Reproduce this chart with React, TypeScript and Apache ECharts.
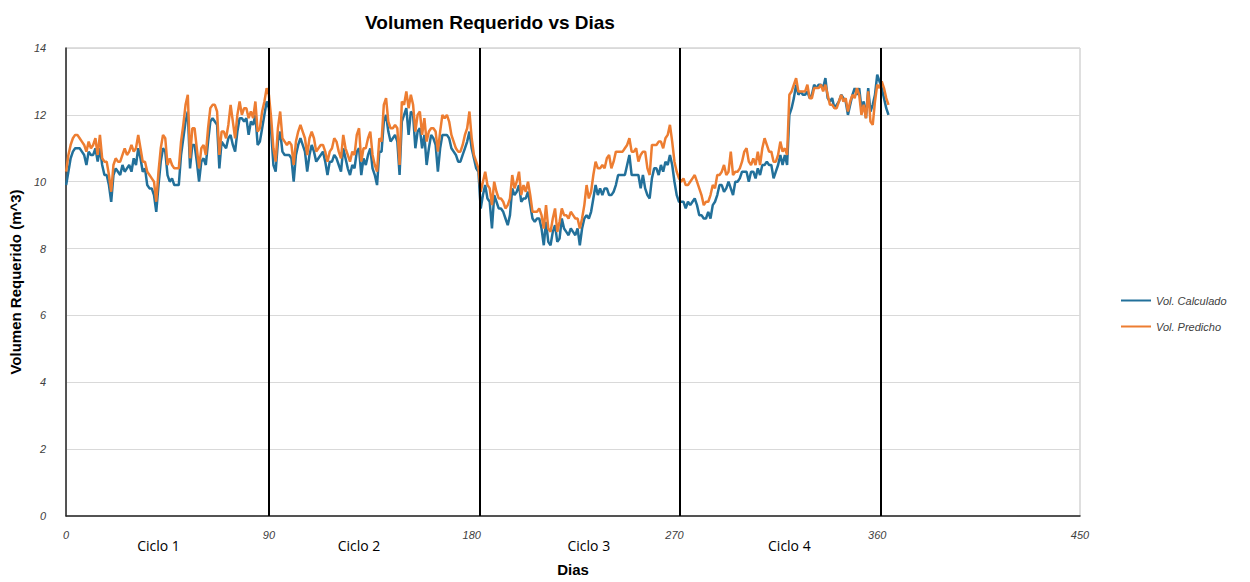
import React, { useEffect, useRef } from "react";
import * as echarts from "echarts";

const volCalculado: number[] = [
  9.9, 10.3, 10.7, 10.9, 11.0, 11.0, 11.0, 10.9, 10.8, 10.5,
  10.9, 10.8, 10.8, 11.0, 10.6, 11.0, 10.5, 10.2, 10.2, 9.9,
  9.4, 10.2, 10.4, 10.3, 10.2, 10.5, 10.3, 10.4, 10.5, 10.3,
  10.7, 10.5, 11.0, 10.7, 10.3, 10.4, 9.9, 9.8, 9.8, 9.6,
  9.1, 9.9, 10.6, 11.0, 10.9, 10.2, 10.0, 10.1, 9.9, 9.9,
  9.9, 10.8, 11.3, 11.8, 12.1, 10.4, 11.1, 11.1, 10.6, 10.0,
  10.6, 10.7, 10.5, 11.2, 11.8, 11.9, 11.8, 11.7, 10.4, 11.2,
  11.1, 11.0, 11.3, 11.4, 11.1, 10.9, 11.5, 11.9, 11.9, 11.8,
  11.9, 11.4, 11.8, 11.7, 12.0, 11.1, 11.2, 11.6, 12.0, 12.4,
  12.2, 11.5, 10.5, 10.3, 11.2, 11.5, 10.9, 10.8, 10.8, 10.8,
  10.7, 10.0, 10.8, 11.1, 11.3, 11.1, 10.9, 10.3, 10.8, 11.1,
  10.9, 10.6, 10.7, 10.8, 10.9, 10.6, 10.2, 10.6, 10.6, 10.8,
  10.7, 10.5, 10.3, 11.0, 10.7, 10.4, 10.2, 10.5, 10.4, 10.9,
  11.0, 10.2, 10.7, 10.5, 10.8, 11.0, 10.4, 10.2, 9.9, 10.9,
  10.9, 11.8, 12.0, 11.5, 11.2, 11.3, 11.4, 11.2, 10.2, 11.8,
  12.0, 12.2, 11.4, 12.1, 12.0, 11.0, 11.5, 11.6, 11.0, 11.4,
  10.5, 11.0, 11.4, 11.3, 11.1, 10.3, 11.0, 11.4, 11.4, 11.4,
  11.3, 11.0, 10.9, 10.8, 10.6, 10.6, 10.8, 11.0, 11.2, 11.5,
  11.0, 10.7, 10.4, 10.3, 9.2, 9.6, 9.9, 9.5, 9.4, 8.6,
  9.6, 9.4, 9.2, 9.2, 9.1, 8.9, 8.7, 9.0, 9.8, 9.6,
  9.7, 9.9, 9.4, 9.5, 9.5, 9.7, 9.3, 8.9, 8.8, 8.9,
  8.9, 8.6, 8.1, 8.8, 8.2, 8.1, 8.5, 8.7, 8.2, 8.3,
  8.9, 8.6, 8.5, 8.4, 8.6, 8.5, 8.4, 8.6, 8.1, 8.6,
  8.9, 9.0, 8.9, 9.1, 9.5, 9.9, 9.6, 9.8, 9.6, 9.8,
  9.8, 9.6, 9.6, 9.7, 9.9, 10.2, 10.2, 10.2, 10.2, 10.5,
  10.8, 10.2, 10.2, 10.2, 10.2, 9.8, 10.2, 9.8, 9.6, 9.5,
  10.1, 10.4, 10.4, 10.2, 10.5, 10.3, 10.6, 10.5, 10.8, 10.5,
  10.0, 9.6, 9.4, 9.4, 9.4, 9.2, 9.4, 9.3, 9.4, 9.5,
  9.3, 9.0, 9.0, 8.9, 8.9, 9.1, 8.9, 9.3, 9.4, 9.6,
  9.9, 9.9, 9.7, 9.8, 10.0, 9.8, 9.6, 10.0, 10.0, 10.1,
  10.3, 10.3, 10.3, 10.0, 10.3, 10.3, 10.1, 10.4, 10.2, 10.5,
  10.5, 10.6, 10.5, 10.5, 10.1, 10.3, 10.5, 10.8, 10.5, 10.8,
  10.5, 12.0, 12.2, 12.5, 12.9, 12.6, 12.7, 12.6, 12.6, 12.7,
  12.5, 12.6, 12.9, 12.8, 12.9, 12.9, 12.8, 13.1, 12.5, 12.4,
  12.5, 12.2, 12.3, 12.4, 12.6, 12.5, 12.4, 12.0, 12.3, 12.6,
  12.8, 12.6, 12.8, 12.2, 12.4, 11.9, 12.8, 12.1, 12.3, 12.6,
  13.2, 13.0, 12.8, 12.5, 12.2, 12.0,
];

const volPredicho: number[] = [
  10.3, 10.8, 11.1, 11.3, 11.4, 11.4, 11.3, 11.2, 11.1, 10.9,
  11.2, 11.0, 11.1, 11.3, 10.8, 11.4, 10.7, 10.6, 10.6, 10.2,
  9.7, 10.5, 10.7, 10.6, 10.6, 10.8, 11.0, 10.8, 10.9, 11.1,
  10.9, 11.0, 11.4, 11.0, 10.6, 10.6, 10.3, 10.2, 10.1, 10.0,
  9.4, 10.3, 11.0, 11.4, 11.3, 10.5, 10.7, 10.5, 10.4, 10.4,
  10.4, 11.2, 11.7, 12.3, 12.6, 10.7, 11.6, 11.6, 11.0, 10.4,
  11.0, 11.1, 10.8, 11.6, 12.2, 12.3, 12.3, 12.1, 10.8, 11.5,
  11.5, 11.3, 11.7, 12.3, 11.8, 11.3, 12.0, 12.4, 12.0, 12.2,
  12.2, 11.9, 12.1, 11.9, 12.4, 11.5, 11.6, 12.1, 12.4, 12.8,
  12.6, 11.9, 11.0, 10.6, 11.6, 12.1, 11.3, 11.2, 11.1, 11.2,
  11.1, 10.5, 11.2, 11.5, 11.7, 11.5, 11.3, 10.8, 11.3, 11.5,
  11.3, 10.9, 11.0, 11.1, 11.1, 10.9, 10.6, 10.9, 11.0, 11.3,
  11.2, 10.9, 10.7, 11.4, 11.0, 10.8, 10.6, 10.9, 10.8, 11.4,
  11.6, 10.6, 11.0, 11.0, 11.3, 11.5, 10.8, 10.5, 10.3, 11.3,
  11.2, 12.3, 12.5, 11.8, 11.6, 11.6, 11.7, 11.6, 10.5, 12.4,
  12.3, 12.7, 12.2, 12.6, 12.3, 11.5, 12.0, 12.1, 11.4, 11.9,
  11.2, 11.5, 11.6, 11.6, 11.5, 10.9, 11.5, 12.0, 11.9, 12.0,
  11.8, 11.4, 11.2, 11.0, 10.9, 10.9, 11.1, 11.4, 11.6, 12.1,
  11.3, 10.8, 10.6, 10.4, 9.7, 10.0, 10.3, 9.9, 9.8, 9.3,
  10.0, 9.7, 9.5, 9.5, 9.4, 9.2, 9.3, 9.5, 10.2, 9.8,
  10.0, 10.3, 9.6, 9.9, 9.7, 10.0, 9.6, 9.1, 9.1, 9.1,
  9.2, 9.0, 8.6, 9.3, 8.6, 8.5, 8.9, 9.2, 8.5, 8.8,
  9.2, 9.0, 9.0, 8.9, 9.1, 9.0, 8.9, 8.9, 8.6, 8.9,
  9.3, 9.9, 9.5, 9.7, 10.2, 10.6, 10.4, 10.4, 10.5, 10.4,
  10.7, 10.8, 10.4, 10.6, 10.9, 10.9, 10.9, 10.9, 11.0, 11.1,
  11.3, 10.9, 10.9, 11.0, 10.6, 10.8, 10.9, 10.9, 10.4, 10.2,
  11.1, 11.1, 11.1, 11.2, 11.2, 11.0, 11.3, 11.4, 11.7, 11.2,
  10.6, 10.3, 10.1, 10.0, 10.1, 9.9, 9.9, 10.0, 10.1, 10.2,
  10.0, 9.8, 9.6, 9.3, 9.4, 9.4, 9.6, 9.9, 9.8, 10.2,
  10.2, 10.3, 10.5, 10.2, 10.3, 10.9, 10.2, 10.3, 10.3, 10.4,
  10.6, 10.9, 11.0, 10.6, 10.5, 10.7, 10.5, 10.9, 10.5, 11.0,
  11.3, 11.1, 10.9, 10.9, 10.6, 10.6, 10.8, 11.2, 10.9, 11.0,
  10.8, 12.6, 12.7, 12.9, 13.1, 12.7, 12.7, 12.7, 12.7, 12.9,
  12.5, 12.5, 12.8, 12.8, 12.8, 12.9, 12.7, 12.9, 12.6, 12.3,
  12.3, 12.2, 12.2, 12.4, 12.6, 12.4, 12.5, 12.1, 12.4, 12.6,
  12.5, 12.8, 12.6, 12.0, 12.3, 11.9, 12.7, 11.8, 11.7, 12.4,
  12.9, 12.8, 13.0, 12.8, 12.5, 12.3,
];

const cycleBoundaries: number[] = [90, 183.5, 272.5, 361.5];
const cycleLabels: string[] = ["Ciclo 1", "Ciclo 2", "Ciclo 3", "Ciclo 4"];
const cycleLabelDays: number[] = [41, 130, 232, 321];

const FONT = "'Liberation Sans', Arial, sans-serif";

export default function App() {
  const ref = useRef<HTMLDivElement>(null);

  useEffect(() => {
    document.body.style.margin = "0";
    if (!ref.current) return;
    const chart = echarts.init(ref.current, null, { renderer: "svg" });
    const toPairs = (arr: number[]) => arr.map((v, i) => [i, v]);

    chart.setOption({
      animation: false,
      backgroundColor: "#ffffff",
      title: {
        text: "Volumen Requerido vs Dias",
        left: 485,
        top: 8,
        textAlign: "center",
        textStyle: { fontFamily: FONT, fontWeight: "bold", fontSize: 19, color: "#000" },
      },
      legend: {
        orient: "vertical",
        left: 1116,
        top: 290,
        icon: "rect",
        itemWidth: 30,
        itemHeight: 2,
        itemGap: 15,
        textStyle: { fontFamily: FONT, fontStyle: "italic", fontSize: 11, color: "#404040" },
        data: ["Vol. Calculado", "Vol. Predicho"],
      },
      grid: {
        left: 62,
        right: 170,
        top: 48,
        bottom: 63,
        show: true,
        borderColor: "#bfbfbf",
        borderWidth: 1,
      },
      xAxis: {
        type: "value",
        min: 0,
        max: 450,
        interval: 90,
        name: "Dias",
        nameLocation: "middle",
        nameGap: 46,
        nameTextStyle: { fontFamily: FONT, fontWeight: "bold", fontSize: 15, color: "#000" },
        axisLine: { lineStyle: { color: "#262626", width: 1.5 } },
        axisTick: { show: false },
        splitLine: { show: false },
        axisLabel: { fontFamily: FONT, fontStyle: "italic", fontSize: 11, color: "#404040", margin: 13 },
      },
      yAxis: {
        type: "value",
        min: 0,
        max: 14,
        interval: 2,
        name: "Volumen Requerido (m^3)",
        nameLocation: "middle",
        nameGap: 38,
        nameTextStyle: { fontFamily: FONT, fontWeight: "bold", fontSize: 15, color: "#000" },
        axisLine: { show: true, lineStyle: { color: "#262626", width: 1.5 } },
        axisTick: { show: false },
        splitLine: { lineStyle: { color: "#d9d9d9", width: 1 } },
        axisLabel: { fontFamily: FONT, fontStyle: "italic", fontSize: 11, color: "#404040", margin: 20 },
      },
      series: [
        {
          name: "Vol. Calculado",
          type: "line",
          data: toPairs(volCalculado),
          symbol: "none",
          lineStyle: { color: "#22709a", width: 2.5 },
          itemStyle: { color: "#22709a" },
          markLine: {
            silent: true,
            symbol: "none",
            label: { show: false },
            lineStyle: { color: "#000", width: 2, type: "solid" },
            data: cycleBoundaries.map((d) => ({ xAxis: d })),
          },
        },
        {
          name: "Vol. Predicho",
          type: "line",
          data: toPairs(volPredicho),
          symbol: "none",
          lineStyle: { color: "#ed7d31", width: 2.5 },
          itemStyle: { color: "#ed7d31" },
        },
      ],
    });

    const texts = cycleLabels.map((t, i) => {
      const p = chart.convertToPixel({ gridIndex: 0 }, [cycleLabelDays[i], 0]) as number[];
      return {
        type: "text",
        x: p[0],
        y: p[1] + 29,
        style: {
          text: t,
          fontFamily: "'Open Sans', 'Liberation Sans', sans-serif",
          fontSize: 14,
          fill: "#000",
          textAlign: "center",
          textVerticalAlign: "middle",
        },
      };
    });
    chart.setOption({ graphic: texts });

    return () => chart.dispose();
  }, []);

  return <div ref={ref} style={{ width: 1250, height: 582 }} />;
}
